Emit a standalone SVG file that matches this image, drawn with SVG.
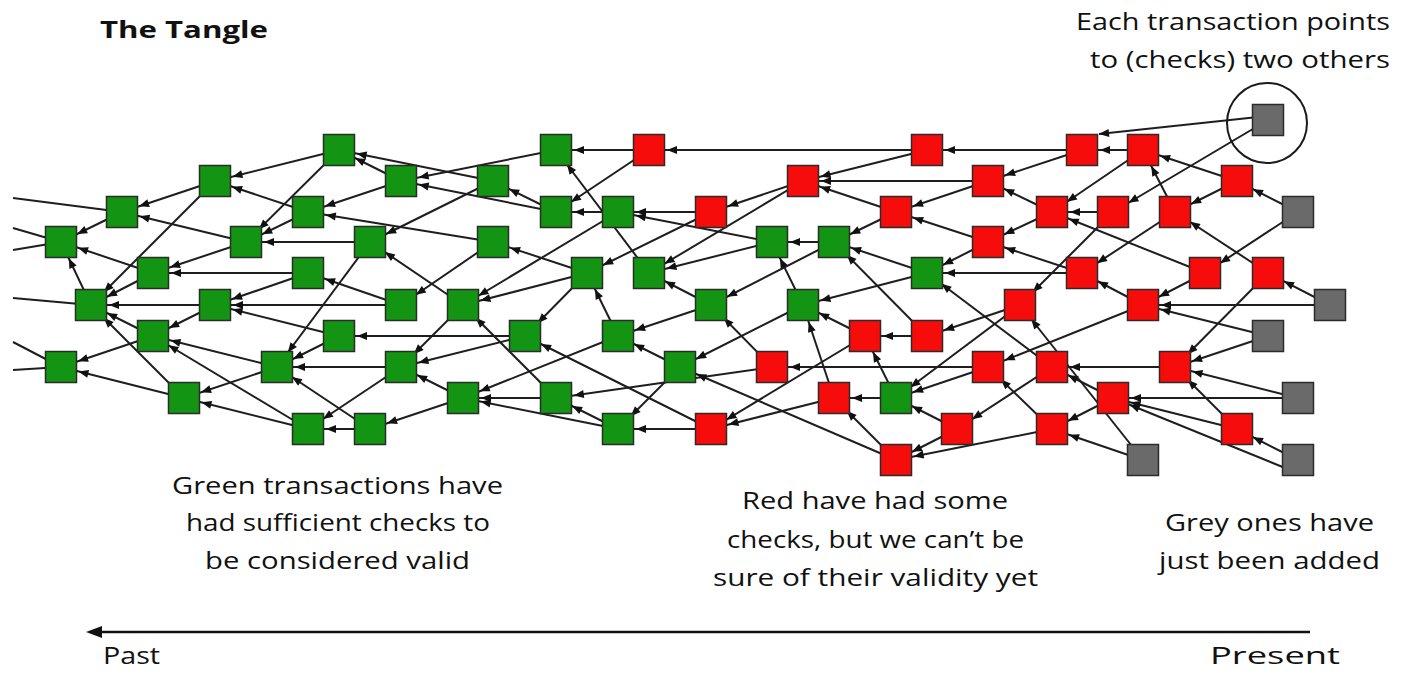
<svg xmlns="http://www.w3.org/2000/svg" width="1406" height="674" viewBox="0 0 1406 674">
<style>
.g{fill:#139413;stroke:#2b2b2b;stroke-width:1.5}
.r{fill:#f70c0c;stroke:#2b2b2b;stroke-width:1.5}
.y{fill:#6a6a6a;stroke:#2b2b2b;stroke-width:1.5}
#edges line{stroke:#1e1e1e;stroke-width:2;marker-end:url(#a)}
#edges line.o{marker-end:none}
#edges line.t{marker-end:url(#t)}
text{font-family:"Open Sans","Noto Sans","Liberation Sans",sans-serif;font-size:24px;fill:#111}
</style>
<defs>
<marker id="a" markerUnits="userSpaceOnUse" markerWidth="12" markerHeight="10" refX="28" refY="5" orient="auto" overflow="visible"><path d="M0,1 L10,5 L0,9 z" fill="#111"/></marker>
<marker id="t" markerUnits="userSpaceOnUse" markerWidth="12" markerHeight="10" refX="10" refY="5" orient="auto" overflow="visible"><path d="M0,1 L10,5 L0,9 z" fill="#111"/></marker>
</defs>
<rect width="1406" height="674" fill="#fff"/>
<g id="edges">
<line class="o" x1="122" y1="212" x2="13" y2="198"/>
<line class="o" x1="61" y1="242" x2="13" y2="228"/>
<line class="o" x1="61" y1="242" x2="13" y2="250"/>
<line class="o" x1="91" y1="305" x2="13" y2="298"/>
<line class="o" x1="61" y1="367" x2="13" y2="342"/>
<line class="o" x1="61" y1="367" x2="13" y2="370"/>
<line x1="215" y1="181" x2="122" y2="212"/>
<line x1="215" y1="181" x2="91" y2="305"/>
<line x1="122" y1="212" x2="61" y2="242"/>
<line x1="246" y1="242" x2="122" y2="212"/>
<line x1="246" y1="242" x2="153" y2="273"/>
<line x1="153" y1="273" x2="61" y2="242"/>
<line x1="153" y1="273" x2="91" y2="305"/>
<line x1="91" y1="305" x2="61" y2="242"/>
<line x1="215" y1="305" x2="91" y2="305"/>
<line x1="215" y1="305" x2="153" y2="336"/>
<line x1="153" y1="336" x2="91" y2="305"/>
<line x1="153" y1="336" x2="61" y2="367"/>
<line x1="184" y1="398" x2="91" y2="305"/>
<line x1="184" y1="398" x2="61" y2="367"/>
<line x1="277" y1="367" x2="153" y2="336"/>
<line x1="277" y1="367" x2="184" y2="398"/>
<line x1="308" y1="429" x2="153" y2="336"/>
<line x1="308" y1="429" x2="184" y2="398"/>
<line x1="339" y1="150" x2="215" y2="181"/>
<line x1="339" y1="150" x2="246" y2="242"/>
<line x1="308" y1="212" x2="215" y2="181"/>
<line x1="308" y1="212" x2="246" y2="242"/>
<line x1="401" y1="181" x2="339" y2="150"/>
<line x1="401" y1="181" x2="308" y2="212"/>
<line x1="493" y1="181" x2="339" y2="150"/>
<line x1="493" y1="181" x2="370" y2="242"/>
<line x1="556" y1="150" x2="401" y2="181"/>
<line x1="556" y1="212" x2="401" y2="181"/>
<line x1="556" y1="212" x2="493" y2="181"/>
<line x1="370" y1="242" x2="246" y2="242"/>
<line x1="370" y1="242" x2="277" y2="367"/>
<line x1="308" y1="273" x2="153" y2="273"/>
<line x1="308" y1="273" x2="215" y2="305"/>
<line x1="493" y1="242" x2="308" y2="212"/>
<line x1="493" y1="242" x2="401" y2="305"/>
<line x1="401" y1="305" x2="308" y2="273"/>
<line x1="401" y1="305" x2="215" y2="305"/>
<line x1="463" y1="305" x2="370" y2="242"/>
<line x1="463" y1="305" x2="401" y2="367"/>
<line x1="339" y1="336" x2="215" y2="305"/>
<line x1="339" y1="336" x2="277" y2="367"/>
<line x1="401" y1="367" x2="277" y2="367"/>
<line x1="401" y1="367" x2="308" y2="429"/>
<line x1="370" y1="429" x2="277" y2="367"/>
<line x1="370" y1="429" x2="308" y2="429"/>
<line x1="463" y1="398" x2="401" y2="367"/>
<line x1="463" y1="398" x2="370" y2="429"/>
<line x1="525" y1="336" x2="339" y2="336"/>
<line x1="525" y1="336" x2="401" y2="367"/>
<line x1="587" y1="273" x2="493" y2="242"/>
<line x1="587" y1="273" x2="463" y2="305"/>
<line x1="587" y1="273" x2="525" y2="336"/>
<line x1="618" y1="212" x2="463" y2="305"/>
<line x1="618" y1="212" x2="556" y2="212"/>
<line x1="649" y1="273" x2="556" y2="150"/>
<line x1="649" y1="150" x2="556" y2="150"/>
<line x1="649" y1="150" x2="556" y2="212"/>
<line x1="711" y1="212" x2="618" y2="212"/>
<line x1="711" y1="212" x2="587" y2="273"/>
<line x1="772" y1="242" x2="618" y2="212"/>
<line x1="772" y1="242" x2="649" y2="273"/>
<line x1="803" y1="181" x2="711" y2="212"/>
<line x1="803" y1="181" x2="649" y2="273"/>
<line x1="711" y1="305" x2="649" y2="273"/>
<line x1="711" y1="305" x2="618" y2="336"/>
<line x1="618" y1="336" x2="587" y2="273"/>
<line x1="618" y1="336" x2="463" y2="398"/>
<line x1="680" y1="367" x2="618" y2="336"/>
<line x1="680" y1="367" x2="618" y2="429"/>
<line x1="556" y1="398" x2="463" y2="398"/>
<line x1="556" y1="398" x2="463" y2="305"/>
<line x1="618" y1="429" x2="463" y2="398"/>
<line x1="618" y1="429" x2="556" y2="398"/>
<line x1="711" y1="429" x2="525" y2="336"/>
<line x1="711" y1="429" x2="618" y2="429"/>
<line x1="772" y1="367" x2="556" y2="398"/>
<line x1="772" y1="367" x2="711" y2="305"/>
<line x1="803" y1="305" x2="772" y2="242"/>
<line x1="803" y1="305" x2="680" y2="367"/>
<line x1="834" y1="242" x2="772" y2="242"/>
<line x1="834" y1="242" x2="711" y2="305"/>
<line x1="927" y1="273" x2="834" y2="242"/>
<line x1="927" y1="273" x2="803" y2="305"/>
<line x1="896" y1="398" x2="865" y2="336"/>
<line x1="896" y1="398" x2="834" y2="398"/>
<line x1="927" y1="150" x2="649" y2="150"/>
<line x1="927" y1="150" x2="803" y2="181"/>
<line x1="896" y1="212" x2="803" y2="181"/>
<line x1="896" y1="212" x2="834" y2="242"/>
<line x1="988" y1="181" x2="803" y2="181"/>
<line x1="988" y1="181" x2="896" y2="212"/>
<line x1="1082" y1="150" x2="927" y2="150"/>
<line x1="1082" y1="150" x2="988" y2="181"/>
<line x1="1143" y1="150" x2="1082" y2="150"/>
<line x1="1143" y1="150" x2="1052" y2="212"/>
<line x1="1052" y1="212" x2="988" y2="181"/>
<line x1="1052" y1="212" x2="988" y2="242"/>
<line x1="1113" y1="212" x2="1052" y2="212"/>
<line x1="1113" y1="212" x2="1020" y2="305"/>
<line x1="1175" y1="212" x2="1143" y2="150"/>
<line x1="1175" y1="212" x2="1082" y2="273"/>
<line x1="988" y1="242" x2="896" y2="212"/>
<line x1="988" y1="242" x2="927" y2="273"/>
<line x1="1082" y1="273" x2="988" y2="242"/>
<line x1="1082" y1="273" x2="927" y2="273"/>
<line x1="1205" y1="273" x2="1052" y2="212"/>
<line x1="1205" y1="273" x2="1143" y2="305"/>
<line x1="1020" y1="305" x2="896" y2="398"/>
<line x1="1020" y1="305" x2="927" y2="336"/>
<line x1="1143" y1="305" x2="1082" y2="273"/>
<line x1="1143" y1="305" x2="988" y2="367"/>
<line x1="988" y1="367" x2="772" y2="367"/>
<line x1="988" y1="367" x2="896" y2="398"/>
<line x1="1052" y1="367" x2="927" y2="273"/>
<line x1="1052" y1="367" x2="957" y2="429"/>
<line x1="1175" y1="367" x2="1052" y2="367"/>
<line x1="1113" y1="398" x2="1052" y2="429"/>
<line x1="1113" y1="398" x2="1052" y2="367"/>
<line x1="1052" y1="429" x2="988" y2="367"/>
<line x1="1052" y1="429" x2="896" y2="460"/>
<line x1="957" y1="429" x2="896" y2="398"/>
<line x1="957" y1="429" x2="896" y2="460"/>
<line x1="896" y1="460" x2="834" y2="398"/>
<line x1="896" y1="460" x2="680" y2="367"/>
<line x1="865" y1="336" x2="803" y2="305"/>
<line x1="865" y1="336" x2="711" y2="429"/>
<line x1="927" y1="336" x2="865" y2="336"/>
<line x1="927" y1="336" x2="834" y2="242"/>
<line x1="834" y1="398" x2="803" y2="305"/>
<line x1="834" y1="398" x2="711" y2="429"/>
<line x1="1237" y1="181" x2="1143" y2="150"/>
<line x1="1237" y1="181" x2="1175" y2="212"/>
<line x1="1268" y1="273" x2="1175" y2="212"/>
<line x1="1268" y1="273" x2="1175" y2="367"/>
<line x1="1237" y1="429" x2="1175" y2="367"/>
<line x1="1237" y1="429" x2="1113" y2="398"/>
<line class="t" x1="1258" y1="117" x2="1099" y2="134"/>
<line x1="1268" y1="120" x2="1113" y2="212"/>
<line x1="1298" y1="212" x2="1237" y2="181"/>
<line x1="1298" y1="212" x2="1205" y2="273"/>
<line x1="1330" y1="305" x2="1143" y2="305"/>
<line x1="1330" y1="305" x2="1268" y2="273"/>
<line x1="1268" y1="336" x2="1143" y2="305"/>
<line x1="1268" y1="336" x2="1175" y2="367"/>
<line x1="1298" y1="398" x2="1175" y2="367"/>
<line x1="1298" y1="398" x2="1113" y2="398"/>
<line x1="1298" y1="460" x2="1237" y2="429"/>
<line x1="1290" y1="470" x2="1113" y2="398"/>
<line x1="1143" y1="460" x2="1020" y2="305"/>
<line x1="1143" y1="460" x2="1052" y2="429"/>
</g>
<g id="G1"><rect class="g" x="45.5" y="226.5" width="31" height="31"/></g>
<g id="G2"><rect class="g" x="75.5" y="289.5" width="31" height="31"/></g>
<g id="G3"><rect class="g" x="45.5" y="351.5" width="31" height="31"/></g>
<g id="G4"><rect class="g" x="106.5" y="196.5" width="31" height="31"/></g>
<g id="G5"><rect class="g" x="137.5" y="257.5" width="31" height="31"/></g>
<g id="G6"><rect class="g" x="137.5" y="320.5" width="31" height="31"/></g>
<g id="G7"><rect class="g" x="168.5" y="382.5" width="31" height="31"/></g>
<g id="G8"><rect class="g" x="199.5" y="165.5" width="31" height="31"/></g>
<g id="G9"><rect class="g" x="230.5" y="226.5" width="31" height="31"/></g>
<g id="G10"><rect class="g" x="199.5" y="289.5" width="31" height="31"/></g>
<g id="G11"><rect class="g" x="261.5" y="351.5" width="31" height="31"/></g>
<g id="G12"><rect class="g" x="292.5" y="196.5" width="31" height="31"/></g>
<g id="G13"><rect class="g" x="292.5" y="257.5" width="31" height="31"/></g>
<g id="G14"><rect class="g" x="323.5" y="134.5" width="31" height="31"/></g>
<g id="G15"><rect class="g" x="354.5" y="226.5" width="31" height="31"/></g>
<g id="G16"><rect class="g" x="323.5" y="320.5" width="31" height="31"/></g>
<g id="G17"><rect class="g" x="292.5" y="413.5" width="31" height="31"/></g>
<g id="G18"><rect class="g" x="354.5" y="413.5" width="31" height="31"/></g>
<g id="G19"><rect class="g" x="385.5" y="165.5" width="31" height="31"/></g>
<g id="G20"><rect class="g" x="385.5" y="289.5" width="31" height="31"/></g>
<g id="G21"><rect class="g" x="385.5" y="351.5" width="31" height="31"/></g>
<g id="G22"><rect class="g" x="477.5" y="165.5" width="31" height="31"/></g>
<g id="G23"><rect class="g" x="477.5" y="226.5" width="31" height="31"/></g>
<g id="G24"><rect class="g" x="447.5" y="289.5" width="31" height="31"/></g>
<g id="G25"><rect class="g" x="447.5" y="382.5" width="31" height="31"/></g>
<g id="G26"><rect class="g" x="540.5" y="134.5" width="31" height="31"/></g>
<g id="G27"><rect class="g" x="540.5" y="196.5" width="31" height="31"/></g>
<g id="G28"><rect class="g" x="571.5" y="257.5" width="31" height="31"/></g>
<g id="G29"><rect class="g" x="509.5" y="320.5" width="31" height="31"/></g>
<g id="G30"><rect class="g" x="540.5" y="382.5" width="31" height="31"/></g>
<g id="G31"><rect class="g" x="602.5" y="196.5" width="31" height="31"/></g>
<g id="G32"><rect class="g" x="633.5" y="257.5" width="31" height="31"/></g>
<g id="G33"><rect class="g" x="602.5" y="413.5" width="31" height="31"/></g>
<g id="G34"><rect class="g" x="664.5" y="351.5" width="31" height="31"/></g>
<g id="G35"><rect class="g" x="695.5" y="289.5" width="31" height="31"/></g>
<g id="G36"><rect class="g" x="756.5" y="226.5" width="31" height="31"/></g>
<g id="G37"><rect class="g" x="818.5" y="226.5" width="31" height="31"/></g>
<g id="G38"><rect class="g" x="787.5" y="289.5" width="31" height="31"/></g>
<g id="G39"><rect class="g" x="911.5" y="257.5" width="31" height="31"/></g>
<g id="G40"><rect class="g" x="880.5" y="382.5" width="31" height="31"/></g>
<g id="G41"><rect class="g" x="602.5" y="320.5" width="31" height="31"/></g>
<g id="R1"><rect class="r" x="633.5" y="134.5" width="31" height="31"/></g>
<g id="R2"><rect class="r" x="695.5" y="196.5" width="31" height="31"/></g>
<g id="R3"><rect class="r" x="695.5" y="413.5" width="31" height="31"/></g>
<g id="R4"><rect class="r" x="756.5" y="351.5" width="31" height="31"/></g>
<g id="R5"><rect class="r" x="911.5" y="134.5" width="31" height="31"/></g>
<g id="R6"><rect class="r" x="787.5" y="165.5" width="31" height="31"/></g>
<g id="R7"><rect class="r" x="880.5" y="196.5" width="31" height="31"/></g>
<g id="R8"><rect class="r" x="972.5" y="165.5" width="31" height="31"/></g>
<g id="R9"><rect class="r" x="1066.5" y="134.5" width="31" height="31"/></g>
<g id="R10"><rect class="r" x="1127.5" y="134.5" width="31" height="31"/></g>
<g id="R11"><rect class="r" x="1036.5" y="196.5" width="31" height="31"/></g>
<g id="R12"><rect class="r" x="1097.5" y="196.5" width="31" height="31"/></g>
<g id="R13"><rect class="r" x="1159.5" y="196.5" width="31" height="31"/></g>
<g id="R14"><rect class="r" x="972.5" y="226.5" width="31" height="31"/></g>
<g id="R15"><rect class="r" x="1066.5" y="257.5" width="31" height="31"/></g>
<g id="R16"><rect class="r" x="1189.5" y="257.5" width="31" height="31"/></g>
<g id="R17"><rect class="r" x="1004.5" y="289.5" width="31" height="31"/></g>
<g id="R18"><rect class="r" x="1127.5" y="289.5" width="31" height="31"/></g>
<g id="R19"><rect class="r" x="972.5" y="351.5" width="31" height="31"/></g>
<g id="R20"><rect class="r" x="1036.5" y="351.5" width="31" height="31"/></g>
<g id="R21"><rect class="r" x="1159.5" y="351.5" width="31" height="31"/></g>
<g id="R22"><rect class="r" x="1097.5" y="382.5" width="31" height="31"/></g>
<g id="R23"><rect class="r" x="1036.5" y="413.5" width="31" height="31"/></g>
<g id="R24"><rect class="r" x="941.5" y="413.5" width="31" height="31"/></g>
<g id="R25"><rect class="r" x="880.5" y="444.5" width="31" height="31"/></g>
<g id="R26"><rect class="r" x="849.5" y="320.5" width="31" height="31"/></g>
<g id="R27"><rect class="r" x="911.5" y="320.5" width="31" height="31"/></g>
<g id="R28"><rect class="r" x="818.5" y="382.5" width="31" height="31"/></g>
<g id="R29"><rect class="r" x="1221.5" y="165.5" width="31" height="31"/></g>
<g id="R30"><rect class="r" x="1252.5" y="257.5" width="31" height="31"/></g>
<g id="R31"><rect class="r" x="1221.5" y="413.5" width="31" height="31"/></g>
<g id="Y1"><rect class="y" x="1252.5" y="104.5" width="31" height="31"/></g>
<g id="Y2"><rect class="y" x="1282.5" y="196.5" width="31" height="31"/></g>
<g id="Y3"><rect class="y" x="1314.5" y="289.5" width="31" height="31"/></g>
<g id="Y4"><rect class="y" x="1252.5" y="320.5" width="31" height="31"/></g>
<g id="Y5"><rect class="y" x="1282.5" y="382.5" width="31" height="31"/></g>
<g id="Y6"><rect class="y" x="1282.5" y="444.5" width="31" height="31"/></g>
<g id="Y7"><rect class="y" x="1127.5" y="444.5" width="31" height="31"/></g>
<g id="highlight"><circle cx="1267" cy="123" r="40" fill="none" stroke="#1a1a1a" stroke-width="2"/></g>
<g id="timeline"><line x1="1310" y1="632" x2="100" y2="632" stroke="#111" stroke-width="2.5"/><path d="M86,632 L102,626 L102,638 z" fill="#111"/></g>
<g id="labels">
<text x="100" y="38" font-weight="bold" textLength="168" lengthAdjust="spacingAndGlyphs">The Tangle</text>
<text x="1076" y="30" textLength="314" lengthAdjust="spacingAndGlyphs">Each transaction points</text>
<text x="1090" y="68" textLength="300" lengthAdjust="spacingAndGlyphs">to (checks) two others</text>
<text x="172" y="494" textLength="331" lengthAdjust="spacingAndGlyphs">Green transactions have</text>
<text x="186" y="531" textLength="304" lengthAdjust="spacingAndGlyphs">had sufficient checks to</text>
<text x="205" y="569" textLength="265" lengthAdjust="spacingAndGlyphs">be considered valid</text>
<text x="742" y="509" textLength="266" lengthAdjust="spacingAndGlyphs">Red have had some</text>
<text x="727" y="548" textLength="297" lengthAdjust="spacingAndGlyphs">checks, but we can’t be</text>
<text x="713" y="586" textLength="325" lengthAdjust="spacingAndGlyphs">sure of their validity yet</text>
<text x="1165" y="531" textLength="209" lengthAdjust="spacingAndGlyphs">Grey ones have</text>
<text x="1159" y="569" textLength="221" lengthAdjust="spacingAndGlyphs">just been added</text>
<text x="103" y="664" font-size="23" textLength="57" lengthAdjust="spacingAndGlyphs">Past</text>
<text x="1210" y="664" font-size="23" textLength="130" lengthAdjust="spacingAndGlyphs">Present</text>
</g>
</svg>
